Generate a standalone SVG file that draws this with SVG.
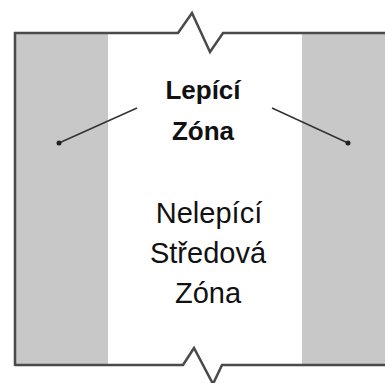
<svg xmlns="http://www.w3.org/2000/svg" width="385" height="383" viewBox="0 0 385 383">
<style>
.band{fill:#c8c8c8}
.edge{fill:none;stroke:#4a4a4a;stroke-width:2.5;stroke-linejoin:miter}
.lead{fill:none;stroke:#333;stroke-width:1.5}
.dot{fill:#222}
.t{font-family:"Liberation Sans",Arial,sans-serif;fill:#111;text-anchor:middle}
.b{font-weight:bold;font-size:26px}
.r{font-size:29px}
</style>
<g id="bands">
<rect class="band" x="15" y="33" width="93" height="332"/>
<rect class="band" x="302" y="33" width="83" height="332"/>
</g>
<g id="edges">
<path class="edge" d="M15,366 V33 H178 L192,13 L210,52 L223,33 H385"/>
<path class="edge" d="M15,365 H183 L194,348 L213,384 L222,365 H385"/>
</g>
<g id="connectors">
<line class="lead" x1="59" y1="143" x2="137" y2="108"/>
<circle class="dot" cx="59" cy="143" r="2.5"/>
<line class="lead" x1="272" y1="108" x2="348" y2="143"/>
<circle class="dot" cx="348" cy="143" r="2.5"/>
</g>
<g id="adhesive-zone">
<text class="t b" x="203" y="99">Lepící</text>
<text class="t b" x="203" y="140">Zóna</text>
</g>
<g id="center-zone">
<text class="t r" x="209" y="223">Nelepící</text>
<text class="t r" x="208" y="263">Středová</text>
<text class="t r" x="208" y="303">Zóna</text>
</g>
</svg>
